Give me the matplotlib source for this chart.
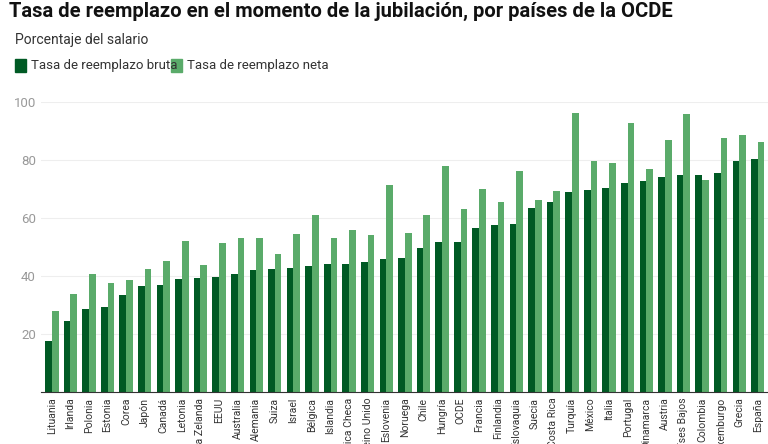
import numpy as np
import matplotlib.pyplot as plt
from matplotlib.patches import Rectangle

plt.rcParams["font.family"] = ["Roboto", "DejaVu Sans"]

paises = ["Lituania", "Irlanda", "Polonia", "Estonia", "Corea", "Japón", "Canadá", "Letonia",
          "Nueva Zelanda", "EEUU", "Australia", "Alemania", "Suiza", "Israel", "Bélgica",
          "Islandia", "República Checa", "Reino Unido", "Eslovenia", "Noruega", "Chile",
          "Hungría", "OCDE", "Francia", "Finlandia", "Eslovaquia", "Suecia", "Costa Rica",
          "Turquía", "México", "Italia", "Portugal", "Dinamarca", "Austria", "Países Bajos",
          "Colombia", "Luxemburgo", "Grecia", "España"]
bruta = [17.5, 24.5, 28.7, 29.3, 33.6, 36.5, 37.0, 38.9, 39.4, 39.7, 40.8, 42.1, 42.3, 42.9,
         43.5, 44.0, 44.2, 44.9, 46.0, 46.2, 49.7, 51.9, 51.9, 56.6, 57.6, 57.8, 63.6, 65.6,
         68.9, 69.6, 70.4, 72.2, 72.7, 74.1, 74.7, 74.7, 75.7, 79.8, 80.4]
neta = [28.1, 33.8, 40.6, 37.7, 38.8, 42.4, 45.1, 52.2, 43.7, 51.3, 53.0, 53.2, 47.5, 54.4,
        61.0, 53.2, 55.9, 54.2, 71.3, 54.8, 61.2, 78.0, 63.2, 69.9, 65.7, 76.4, 66.3, 69.4,
        96.4, 79.7, 79.0, 92.8, 76.9, 86.8, 95.9, 73.1, 87.6, 88.6, 86.3]

dark = "#005a24"
light = "#5aab6a"

fig = plt.figure(figsize=(7.68, 4.44), dpi=100)
ax = fig.add_axes([0.053, 0.117, 0.947, 0.653])

x = np.arange(len(paises))
w = 0.36
ax.bar(x - w / 2, bruta, w, color=dark, label="Tasa de reemplazo bruta")
ax.bar(x + w / 2, neta, w, color=light, label="Tasa de reemplazo neta")

ax.set_xlim(-0.6, len(paises) - 0.45)
ax.set_ylim(0, 100)
ax.set_yticks([20, 40, 60, 80, 100])
ax.yaxis.grid(True, color="#eeeeee", linewidth=0.8)
ax.set_axisbelow(True)
for s in ["top", "right", "left"]:
    ax.spines[s].set_visible(False)
ax.spines["bottom"].set_color("#333333")
ax.tick_params(axis="y", length=0, labelsize=9.5, labelcolor="#999999")
ax.tick_params(axis="x", length=0, labelsize=7.5, labelcolor="#333333", pad=4)
ax.set_xticks(x)
ax.set_xticklabels(paises, rotation=90, va="top")

fig.text(0.012, 0.975, "Tasa de reemplazo en el momento de la jubilación, por países de la OCDE",
         fontsize=14.5, fontweight="bold", color="#111111", va="center")
fig.text(0.02, 0.91, "Porcentaje del salario", fontsize=10, color="#333333", va="center")

for px, col, txt in [(0.02, dark, "Tasa de reemplazo bruta"), (0.223, light, "Tasa de reemplazo neta")]:
    fig.patches.append(Rectangle((px, 0.838), 0.014, 0.028, transform=fig.transFigure, color=col))
    fig.text(px + 0.021, 0.852, txt, fontsize=9.5, color="#333333", va="center")

fig.savefig("out.png")
